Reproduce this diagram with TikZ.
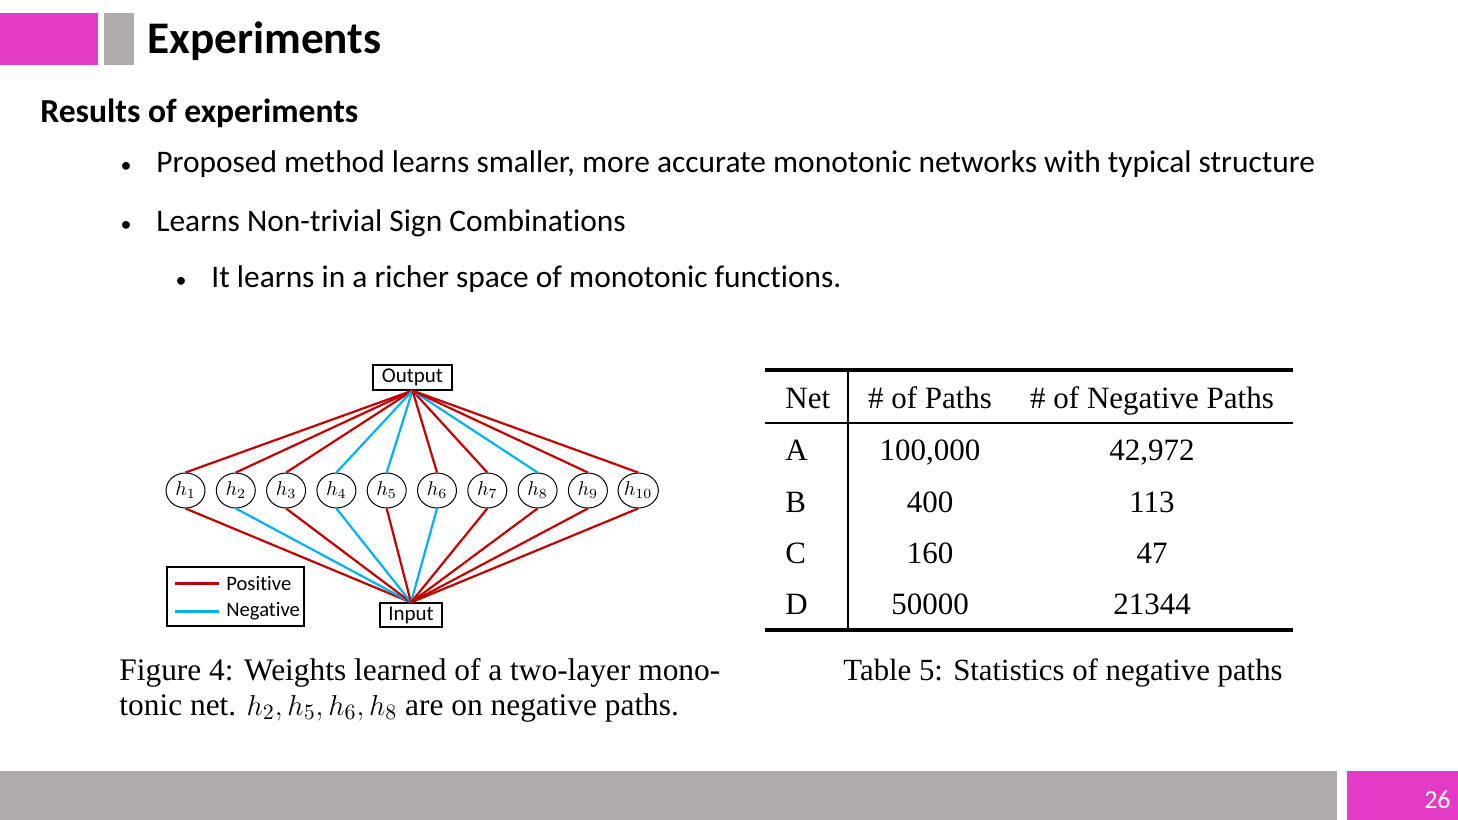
\documentclass[tikz,border=0pt]{standalone}
\usepackage{fontspec}
\setmainfont{Liberation Serif}
\setsansfont{Carlito}[Ligatures=NoCommon]
\usepackage{amsmath}
\usepackage{tikz}
\usetikzlibrary{shapes.geometric,positioning}
\definecolor{slmagenta}{RGB}{226,59,198}
\definecolor{slgray}{RGB}{175,171,171}
\definecolor{posred}{RGB}{192,0,0}
\definecolor{negblue}{RGB}{0,176,240}
\tikzstyle{poswire} = [line width=1.1pt, color=posred]
\tikzstyle{negwire} = [line width=1.1pt, color=negblue]
\tikzstyle{hid} = [draw, ellipse, line width=0.5pt, inner sep=0pt, minimum width=19.5pt, minimum height=17.5pt, font=\fontsize{9.8}{10}\selectfont]
\tikzstyle{iobox} = [draw, line width=0.6pt, inner sep=0pt, minimum height=12.5pt, font=\sffamily\fontsize{10.5}{11}\selectfont]
\tikzstyle{slide} = [anchor=base west, inner sep=0pt, font=\sffamily\fontsize{15.7}{17}\selectfont]
\tikzstyle{dot} = [anchor=base, inner sep=0pt, font=\sffamily\fontsize{11}{12}\selectfont]
\tikzstyle{cell} = [anchor=base, inner sep=0pt, font=\fontsize{15.5}{17}\selectfont]

\begin{document}
\begin{tikzpicture}[x=0.5pt, y=-0.5pt]
\useasboundingbox (0,0) rectangle (1458,820);

% Header
\fill[slmagenta] (0,13) rectangle (98,65);
\fill[slgray] (104,13) rectangle (134,65);
\node[anchor=base west, inner sep=0pt, font=\sffamily\bfseries\fontsize{22.6}{24}\selectfont] (title) at (147,53) {Experiments};
\node[anchor=base west, inner sep=0pt, font=\sffamily\bfseries\fontsize{16.8}{20}\selectfont] (sub) at (40,122) {Results of experiments};

% Bullets
\node[dot] (b1) at (126,172) {•};
\node[slide] (t1) at (156,172) {Proposed method learns smaller, more accurate monotonic networks with typical structure};
\node[dot] (b2) at (126,231) {•};
\node[slide] (t2) at (156,231) {Learns Non-trivial Sign Combinations};
\node[dot] (b3) at (181,287) {•};
\node[slide] (t3) at (211,287) {It learns in a richer space of monotonic functions.};

% Network
\node[iobox, minimum width=39.5pt] (out) at (412.5,377.5) {Output};
\node[iobox, minimum width=31pt, minimum height=12pt] (in) at (411,615) {Input};
\foreach \i in {1,...,10}
  \node[hid] (h\i) at ({185.5+50.3*(\i-1)},490.5) {$h_{\i}$};
\foreach \i/\c in {1/poswire,2/poswire,3/poswire,4/negwire,5/negwire,6/poswire,7/poswire,8/negwire,9/poswire,10/poswire}
  \draw[\c] (out.south) -- (h\i.north);
\foreach \i/\c in {1/poswire,2/negwire,3/poswire,4/negwire,5/poswire,6/negwire,7/poswire,8/poswire,9/poswire,10/poswire}
  \draw[\c] (h\i.south) -- (in.north);

% Legend
\draw[line width=0.6pt] (167,567) rectangle (304,626);
\draw[poswire, line width=1.5pt] (175,583) -- (219,583);
\draw[negwire, line width=1.5pt] (175,611) -- (219,611);
\node[anchor=west, inner sep=0pt, font=\sffamily\fontsize{10.3}{11}\selectfont] (lp) at (226,583) {Positive};
\node[anchor=west, inner sep=0pt, font=\sffamily\fontsize{10.3}{11}\selectfont] (ln) at (226,611) {Negative};

% Figure caption
\node[anchor=base west, inner sep=0pt, font=\fontsize{15.7}{17}\selectfont] (cap1) at (119,680) {Figure 4: Weights learned of a two-layer mono-};
\node[anchor=base west, inner sep=0pt, font=\fontsize{15.7}{17}\selectfont] (cap2) at (119,715) {tonic net. $h_2, h_5, h_6, h_8$ are on negative paths.};

% Table
\draw[line width=2.2pt] (765,370) -- (1293,370);
\draw[line width=0.7pt] (765,423) -- (1293,423);
\draw[line width=2.2pt] (765,630) -- (1293,630);
\draw[line width=0.6pt] (848,372) -- (848,628);
\node[cell, anchor=base west] (net) at (785,408) {Net};
\node[cell] (paths) at (930,408) {\# of Paths};
\node[cell] (negp) at (1152,408) {\# of Negative Paths};
\node[cell, anchor=base west] (ra) at (785,460) {A};
\node[cell] (pa) at (930,460) {100,000};
\node[cell] (na) at (1152,460) {42,972};
\node[cell, anchor=base west] (rb) at (785,512) {B};
\node[cell] (pb) at (930,512) {400};
\node[cell] (nb) at (1152,512) {113};
\node[cell, anchor=base west] (rc) at (785,563) {C};
\node[cell] (pc) at (930,563) {160};
\node[cell] (nc) at (1152,563) {47};
\node[cell, anchor=base west] (rd) at (785,614) {D};
\node[cell] (pd) at (930,614) {50000};
\node[cell] (nd) at (1152,614) {21344};
\node[anchor=base west, inner sep=0pt, font=\fontsize{15.4}{17}\selectfont] (tcap) at (843,680) {Table 5: Statistics of negative paths};

% Footer
\fill[slgray] (0,771) rectangle (1337,820);
\fill[slmagenta] (1347,771) rectangle (1458,820);
\node[anchor=base east, inner sep=0pt, text=white, font=\sffamily\fontsize{13}{14}\selectfont] (page) at (1451,808) {26};
\end{tikzpicture}
\end{document}
